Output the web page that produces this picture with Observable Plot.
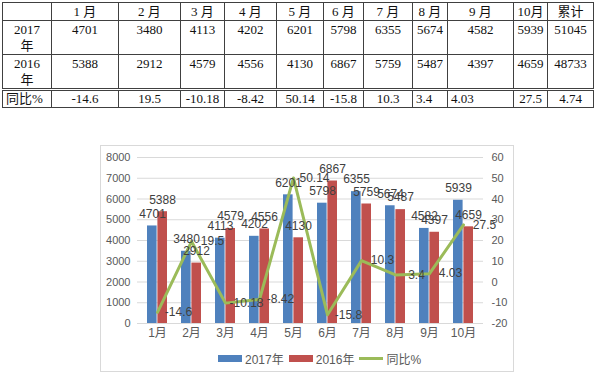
<!DOCTYPE html>
<html>
<head>
<meta charset="utf-8">
<script src="https://cdn.jsdelivr.net/npm/d3@7"></script>
<script src="https://cdn.jsdelivr.net/npm/@observablehq/plot@0.6"></script>
<style>
  html, body { margin: 0; padding: 0; background: #fff; }
  #page { position: relative; width: 600px; height: 380px; overflow: hidden; }
  #tbl { position: absolute; left: 2px; top: 2px; border-collapse: collapse; table-layout: fixed; width: 591px;
         font-family: "Liberation Serif", "Noto Sans CJK SC", serif; font-size: 13px; color: #111; }
  #tbl td { border: 1px solid #404040; padding: 0; text-align: center; line-height: 16px; overflow: visible; white-space: nowrap; }
  #tbl tr.h td { height: 17px; vertical-align: middle; }
  #tbl tr.v td { height: 32px; vertical-align: top; padding-top: 1px; }
  #tbl tr.r td { height: 16px; vertical-align: middle; border-top: 3px double #404040; }
  #tbl td.l { text-align: left; padding-left: 3px; }
  #frame { position: absolute; left: 100px; top: 145px; width: 412px; height: 225px; border: 1px solid #d9d9d9; }
  #chart { position: absolute; left: 0; top: 0; }
  #legend { position: absolute; left: 218px; top: 350px; display: flex; align-items: center;
            font-family: "Liberation Sans", "Noto Sans CJK SC", sans-serif; font-size: 12px; color: #595959; }
  #legend .sw { display: inline-block; width: 24px; height: 7px; margin-right: 3px; }
  #legend .ln { display: inline-block; width: 24px; height: 3px; margin-right: 3px; }
  #legend .it { display: flex; align-items: center; margin-right: 5px; }
</style>
</head>
<body>
<div id="page">
  <div id="frame"></div>
  <div id="chart"></div>
  <div id="legend"></div>
  <table id="tbl"></table>
</div>
<script>
// ---- data ----
const months = ["1月", "2月", "3月", "4月", "5月", "6月", "7月", "8月", "9月", "10月"];
const tableHeaders = ["1 月", "2 月", "3 月", "4 月", "5 月", "6 月", "7 月", "8 月", "9 月", "10月", "累计"];
const seriesNames = ["2017年", "2016年", "同比%"];
const rowLabels = ["2017<br>年", "2016<br>年", "同比%"];
const sales2017 = [4701, 3480, 4113, 4202, 6201, 5798, 6355, 5674, 4582, 5939];
const sales2016 = [5388, 2912, 4579, 4556, 4130, 6867, 5759, 5487, 4397, 4659];
const yoy = [-14.6, 19.5, -10.18, -8.42, 50.14, -15.8, 10.3, 3.4, 4.03, 27.5];
const total2017 = 51045;
const total2016 = 48733;
const totalYoy = 4.74;
const leftTicks = [0, 1000, 2000, 3000, 4000, 5000, 6000, 7000, 8000];
const rightTicks = [-20, -10, 0, 10, 20, 30, 40, 50, 60];

// ---- table ----
const colW = [49, 67, 62, 44, 52, 47, 40, 49, 35, 66, 34, 46];
const tbl = document.getElementById("tbl");
let html = "<colgroup>" + colW.map(w => `<col style="width:${w}px">`).join("") + "</colgroup>";
html += `<tr class="h"><td></td>` + tableHeaders.map(h => `<td>${h}</td>`).join("") + "</tr>";
html += `<tr class="v"><td>${rowLabels[0]}</td>` + sales2017.map(v => `<td>${v}</td>`).join("") + `<td>${total2017}</td></tr>`;
html += `<tr class="v"><td>${rowLabels[1]}</td>` + sales2016.map(v => `<td>${v}</td>`).join("") + `<td>${total2016}</td></tr>`;
const leftAligned = new Set([7, 8]);
html += `<tr class="r"><td class="l">${rowLabels[2]}</td>` + yoy.map((v, i) => `<td${leftAligned.has(i) ? ' class="l"' : ''}>${v}</td>`).join("") + `<td>${totalYoy}</td></tr>`;
tbl.innerHTML = html;

// ---- chart ----
const rows = months.map((m, i) => ({m, a: sales2017[i], b: sales2016[i], r: yoy[i]}));
const toLeft = v => (v + 20) * 100; // right axis (-20..60) onto left axis (0..8000)
const blue = "#4f81bd", red = "#c0504d", green = "#9bbb59";
const labelFill = "#404040";
const half = 10.4;

const chart = Plot.plot({
  width: 600,
  height: 380,
  marginLeft: 137,
  marginRight: 117,
  marginTop: 157,
  marginBottom: 57,
  style: {fontFamily: '"Liberation Sans", "Noto Sans CJK SC", sans-serif', fontSize: "11px", color: "#595959", background: "transparent"},
  x: {domain: months, paddingInner: 0.4, paddingOuter: 0.2, axis: null, label: null},
  y: {domain: [0, 8000], axis: null, label: null},
  marks: [
    Plot.gridY(leftTicks.slice(1), {stroke: "#d9d9d9", strokeOpacity: 1}),
    Plot.ruleY([0], {stroke: "#d9d9d9"}),
    Plot.axisY(leftTicks, {anchor: "left", tickSize: 0, tickPadding: 7, fontSize: 11, label: null, tickFormat: d => String(d)}),
    Plot.axisY(rightTicks.map(toLeft), {anchor: "right", tickSize: 0, tickPadding: 8, fontSize: 11, label: null, tickFormat: d => String(d / 100 - 20)}),
    Plot.axisX(months, {tickSize: 0, tickPadding: 5, fontSize: 12, label: null}),
    Plot.barY(rows, {x: "m", y: "a", fill: blue, insetRight: half, insetLeft: 0}),
    Plot.barY(rows, {x: "m", y: "b", fill: red, insetLeft: half, insetRight: 0}),
    Plot.line(rows, {x: "m", y: d => toLeft(d.r), stroke: green, strokeWidth: 3}),
    Plot.text(rows, {x: "m", y: "a", text: d => String(d.a), dx: -5, dy: -12, fill: labelFill, fontSize: 12}),
    Plot.text(rows, {x: "m", y: "b", text: d => String(d.b), dx: 5, dy: -12, fill: labelFill, fontSize: 12}),
    Plot.text(rows, {x: "m", y: d => toLeft(d.r), text: d => String(d.r), dx: 21, fill: labelFill, fontSize: 12})
  ]
});
document.getElementById("chart").appendChild(chart);

// ---- legend ----
const colors = [blue, red, green];
document.getElementById("legend").innerHTML = seriesNames.map((n, i) =>
  `<span class="it"><span class="${i < 2 ? "sw" : "ln"}" style="background:${colors[i]}"></span>${n}</span>`).join("");
</script>
</body>
</html>
